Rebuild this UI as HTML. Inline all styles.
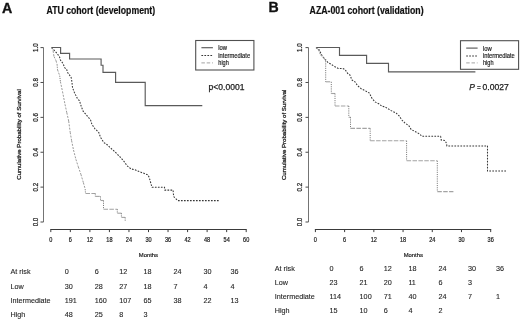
<!DOCTYPE html>
<html><head><meta charset="utf-8"><style>
html,body{margin:0;padding:0;background:#fff;}
body{width:520px;height:321px;overflow:hidden;}
svg{display:block;will-change:transform;font-family:"Liberation Sans", sans-serif;}
</style></head><body>
<svg width="520" height="321" viewBox="0 0 520 321">
<text x="2.10" y="12.50" font-size="15.3" textLength="10.3" lengthAdjust="spacingAndGlyphs" font-weight="bold" fill="#111" stroke="#111" stroke-width="0.35">A</text>
<text x="46.50" y="13.50" font-size="10.1" textLength="108.6" lengthAdjust="spacingAndGlyphs" font-weight="bold" fill="#111" stroke="#111" stroke-width="0.2">ATU cohort (development)</text>
<text x="268.60" y="11.80" font-size="15.4" textLength="10.2" lengthAdjust="spacingAndGlyphs" font-weight="bold" fill="#111" stroke="#111" stroke-width="0.35">B</text>
<text x="309.60" y="13.50" font-size="10.1" textLength="114" lengthAdjust="spacingAndGlyphs" font-weight="bold" fill="#111" stroke="#111" stroke-width="0.2">AZA-001 cohort (validation)</text>
<line x1="43.50" y1="47.60" x2="43.50" y2="222.00" stroke="#747474" stroke-width="1"/>
<line x1="40.50" y1="47.60" x2="43.50" y2="47.60" stroke="#4a4a4a" stroke-width="1"/>
<text x="37.80" y="47.60" font-size="7.0" textLength="8.7" lengthAdjust="spacingAndGlyphs" text-anchor="middle" fill="#1e1e1e" stroke="#1e1e1e" stroke-width="0.22" transform="rotate(-90 37.80 47.60)">1.0</text>
<line x1="40.50" y1="82.48" x2="43.50" y2="82.48" stroke="#4a4a4a" stroke-width="1"/>
<text x="37.80" y="82.48" font-size="7.0" textLength="8.7" lengthAdjust="spacingAndGlyphs" text-anchor="middle" fill="#1e1e1e" stroke="#1e1e1e" stroke-width="0.22" transform="rotate(-90 37.80 82.48)">0.8</text>
<line x1="40.50" y1="117.36" x2="43.50" y2="117.36" stroke="#4a4a4a" stroke-width="1"/>
<text x="37.80" y="117.36" font-size="7.0" textLength="8.7" lengthAdjust="spacingAndGlyphs" text-anchor="middle" fill="#1e1e1e" stroke="#1e1e1e" stroke-width="0.22" transform="rotate(-90 37.80 117.36)">0.6</text>
<line x1="40.50" y1="152.24" x2="43.50" y2="152.24" stroke="#4a4a4a" stroke-width="1"/>
<text x="37.80" y="152.24" font-size="7.0" textLength="8.7" lengthAdjust="spacingAndGlyphs" text-anchor="middle" fill="#1e1e1e" stroke="#1e1e1e" stroke-width="0.22" transform="rotate(-90 37.80 152.24)">0.4</text>
<line x1="40.50" y1="187.12" x2="43.50" y2="187.12" stroke="#4a4a4a" stroke-width="1"/>
<text x="37.80" y="187.12" font-size="7.0" textLength="8.7" lengthAdjust="spacingAndGlyphs" text-anchor="middle" fill="#1e1e1e" stroke="#1e1e1e" stroke-width="0.22" transform="rotate(-90 37.80 187.12)">0.2</text>
<line x1="40.50" y1="222.00" x2="43.50" y2="222.00" stroke="#4a4a4a" stroke-width="1"/>
<text x="37.80" y="222.00" font-size="7.0" textLength="8.7" lengthAdjust="spacingAndGlyphs" text-anchor="middle" fill="#1e1e1e" stroke="#1e1e1e" stroke-width="0.22" transform="rotate(-90 37.80 222.00)">0.0</text>
<line x1="50.30" y1="229.50" x2="246.70" y2="229.50" stroke="#3a3a3a" stroke-width="1"/>
<line x1="50.80" y1="229.50" x2="50.80" y2="232.10" stroke="#3a3a3a" stroke-width="1"/>
<text x="50.80" y="241.60" font-size="6.6" textLength="3.1" lengthAdjust="spacingAndGlyphs" text-anchor="middle" fill="#1e1e1e" stroke="#1e1e1e" stroke-width="0.22">0</text>
<line x1="70.34" y1="229.50" x2="70.34" y2="232.10" stroke="#3a3a3a" stroke-width="1"/>
<text x="70.34" y="241.60" font-size="6.6" textLength="3.1" lengthAdjust="spacingAndGlyphs" text-anchor="middle" fill="#1e1e1e" stroke="#1e1e1e" stroke-width="0.22">6</text>
<line x1="89.88" y1="229.50" x2="89.88" y2="232.10" stroke="#3a3a3a" stroke-width="1"/>
<text x="89.88" y="241.60" font-size="6.6" textLength="6.2" lengthAdjust="spacingAndGlyphs" text-anchor="middle" fill="#1e1e1e" stroke="#1e1e1e" stroke-width="0.22">12</text>
<line x1="109.42" y1="229.50" x2="109.42" y2="232.10" stroke="#3a3a3a" stroke-width="1"/>
<text x="109.42" y="241.60" font-size="6.6" textLength="6.2" lengthAdjust="spacingAndGlyphs" text-anchor="middle" fill="#1e1e1e" stroke="#1e1e1e" stroke-width="0.22">18</text>
<line x1="128.96" y1="229.50" x2="128.96" y2="232.10" stroke="#3a3a3a" stroke-width="1"/>
<text x="128.96" y="241.60" font-size="6.6" textLength="6.2" lengthAdjust="spacingAndGlyphs" text-anchor="middle" fill="#1e1e1e" stroke="#1e1e1e" stroke-width="0.22">24</text>
<line x1="148.50" y1="229.50" x2="148.50" y2="232.10" stroke="#3a3a3a" stroke-width="1"/>
<text x="148.50" y="241.60" font-size="6.6" textLength="6.2" lengthAdjust="spacingAndGlyphs" text-anchor="middle" fill="#1e1e1e" stroke="#1e1e1e" stroke-width="0.22">30</text>
<line x1="168.04" y1="229.50" x2="168.04" y2="232.10" stroke="#3a3a3a" stroke-width="1"/>
<text x="168.04" y="241.60" font-size="6.6" textLength="6.2" lengthAdjust="spacingAndGlyphs" text-anchor="middle" fill="#1e1e1e" stroke="#1e1e1e" stroke-width="0.22">36</text>
<line x1="187.58" y1="229.50" x2="187.58" y2="232.10" stroke="#3a3a3a" stroke-width="1"/>
<text x="187.58" y="241.60" font-size="6.6" textLength="6.2" lengthAdjust="spacingAndGlyphs" text-anchor="middle" fill="#1e1e1e" stroke="#1e1e1e" stroke-width="0.22">42</text>
<line x1="207.12" y1="229.50" x2="207.12" y2="232.10" stroke="#3a3a3a" stroke-width="1"/>
<text x="207.12" y="241.60" font-size="6.6" textLength="6.2" lengthAdjust="spacingAndGlyphs" text-anchor="middle" fill="#1e1e1e" stroke="#1e1e1e" stroke-width="0.22">48</text>
<line x1="226.66" y1="229.50" x2="226.66" y2="232.10" stroke="#3a3a3a" stroke-width="1"/>
<text x="226.66" y="241.60" font-size="6.6" textLength="6.2" lengthAdjust="spacingAndGlyphs" text-anchor="middle" fill="#1e1e1e" stroke="#1e1e1e" stroke-width="0.22">54</text>
<line x1="246.20" y1="229.50" x2="246.20" y2="232.10" stroke="#3a3a3a" stroke-width="1"/>
<text x="246.20" y="241.60" font-size="6.6" textLength="6.2" lengthAdjust="spacingAndGlyphs" text-anchor="middle" fill="#1e1e1e" stroke="#1e1e1e" stroke-width="0.22">60</text>
<text x="21.20" y="134.50" font-size="5.8" textLength="90.5" lengthAdjust="spacingAndGlyphs" text-anchor="middle" fill="#1e1e1e" stroke="#1e1e1e" stroke-width="0.28" transform="rotate(-90 21.20 134.50)">Cumulative Probability of Survival</text>
<line x1="308.50" y1="47.60" x2="308.50" y2="222.00" stroke="#747474" stroke-width="1"/>
<line x1="305.50" y1="47.60" x2="308.50" y2="47.60" stroke="#4a4a4a" stroke-width="1"/>
<text x="302.40" y="47.60" font-size="7.0" textLength="8.7" lengthAdjust="spacingAndGlyphs" text-anchor="middle" fill="#1e1e1e" stroke="#1e1e1e" stroke-width="0.22" transform="rotate(-90 302.40 47.60)">1.0</text>
<line x1="305.50" y1="82.48" x2="308.50" y2="82.48" stroke="#4a4a4a" stroke-width="1"/>
<text x="302.40" y="82.48" font-size="7.0" textLength="8.7" lengthAdjust="spacingAndGlyphs" text-anchor="middle" fill="#1e1e1e" stroke="#1e1e1e" stroke-width="0.22" transform="rotate(-90 302.40 82.48)">0.8</text>
<line x1="305.50" y1="117.36" x2="308.50" y2="117.36" stroke="#4a4a4a" stroke-width="1"/>
<text x="302.40" y="117.36" font-size="7.0" textLength="8.7" lengthAdjust="spacingAndGlyphs" text-anchor="middle" fill="#1e1e1e" stroke="#1e1e1e" stroke-width="0.22" transform="rotate(-90 302.40 117.36)">0.6</text>
<line x1="305.50" y1="152.24" x2="308.50" y2="152.24" stroke="#4a4a4a" stroke-width="1"/>
<text x="302.40" y="152.24" font-size="7.0" textLength="8.7" lengthAdjust="spacingAndGlyphs" text-anchor="middle" fill="#1e1e1e" stroke="#1e1e1e" stroke-width="0.22" transform="rotate(-90 302.40 152.24)">0.4</text>
<line x1="305.50" y1="187.12" x2="308.50" y2="187.12" stroke="#4a4a4a" stroke-width="1"/>
<text x="302.40" y="187.12" font-size="7.0" textLength="8.7" lengthAdjust="spacingAndGlyphs" text-anchor="middle" fill="#1e1e1e" stroke="#1e1e1e" stroke-width="0.22" transform="rotate(-90 302.40 187.12)">0.2</text>
<line x1="305.50" y1="222.00" x2="308.50" y2="222.00" stroke="#4a4a4a" stroke-width="1"/>
<text x="302.40" y="222.00" font-size="7.0" textLength="8.7" lengthAdjust="spacingAndGlyphs" text-anchor="middle" fill="#1e1e1e" stroke="#1e1e1e" stroke-width="0.22" transform="rotate(-90 302.40 222.00)">0.0</text>
<line x1="314.90" y1="229.50" x2="491.20" y2="229.50" stroke="#3a3a3a" stroke-width="1"/>
<line x1="315.40" y1="229.50" x2="315.40" y2="232.10" stroke="#3a3a3a" stroke-width="1"/>
<text x="315.40" y="241.60" font-size="6.6" textLength="3.1" lengthAdjust="spacingAndGlyphs" text-anchor="middle" fill="#1e1e1e" stroke="#1e1e1e" stroke-width="0.22">0</text>
<line x1="344.62" y1="229.50" x2="344.62" y2="232.10" stroke="#3a3a3a" stroke-width="1"/>
<text x="344.62" y="241.60" font-size="6.6" textLength="3.1" lengthAdjust="spacingAndGlyphs" text-anchor="middle" fill="#1e1e1e" stroke="#1e1e1e" stroke-width="0.22">6</text>
<line x1="373.83" y1="229.50" x2="373.83" y2="232.10" stroke="#3a3a3a" stroke-width="1"/>
<text x="373.83" y="241.60" font-size="6.6" textLength="6.2" lengthAdjust="spacingAndGlyphs" text-anchor="middle" fill="#1e1e1e" stroke="#1e1e1e" stroke-width="0.22">12</text>
<line x1="403.05" y1="229.50" x2="403.05" y2="232.10" stroke="#3a3a3a" stroke-width="1"/>
<text x="403.05" y="241.60" font-size="6.6" textLength="6.2" lengthAdjust="spacingAndGlyphs" text-anchor="middle" fill="#1e1e1e" stroke="#1e1e1e" stroke-width="0.22">18</text>
<line x1="432.27" y1="229.50" x2="432.27" y2="232.10" stroke="#3a3a3a" stroke-width="1"/>
<text x="432.27" y="241.60" font-size="6.6" textLength="6.2" lengthAdjust="spacingAndGlyphs" text-anchor="middle" fill="#1e1e1e" stroke="#1e1e1e" stroke-width="0.22">24</text>
<line x1="461.48" y1="229.50" x2="461.48" y2="232.10" stroke="#3a3a3a" stroke-width="1"/>
<text x="461.48" y="241.60" font-size="6.6" textLength="6.2" lengthAdjust="spacingAndGlyphs" text-anchor="middle" fill="#1e1e1e" stroke="#1e1e1e" stroke-width="0.22">30</text>
<line x1="490.70" y1="229.50" x2="490.70" y2="232.10" stroke="#3a3a3a" stroke-width="1"/>
<text x="490.70" y="241.60" font-size="6.6" textLength="6.2" lengthAdjust="spacingAndGlyphs" text-anchor="middle" fill="#1e1e1e" stroke="#1e1e1e" stroke-width="0.22">36</text>
<text x="286.20" y="134.80" font-size="5.8" textLength="90.5" lengthAdjust="spacingAndGlyphs" text-anchor="middle" fill="#1e1e1e" stroke="#1e1e1e" stroke-width="0.28" transform="rotate(-90 286.20 134.80)">Cumulative Probability of Survival</text>
<text x="138.80" y="257.20" font-size="6.2" textLength="19.2" lengthAdjust="spacingAndGlyphs" fill="#1e1e1e" stroke="#1e1e1e" stroke-width="0.22">Months</text>
<text x="403.70" y="257.20" font-size="6.2" textLength="19.2" lengthAdjust="spacingAndGlyphs" fill="#1e1e1e" stroke="#1e1e1e" stroke-width="0.22">Months</text>
<polyline points="51.5,47.5 60.6,47.5 60.6,53.3 69.6,53.3 69.6,59.0 101.1,59.0 101.1,65.2 103.0,65.2 103.0,72.4 115.6,72.4 115.6,82.3 145.2,82.3 145.2,105.6 202.3,105.6" fill="none" stroke="#5a5a5a" stroke-width="1.15" stroke-linecap="butt" stroke-linejoin="miter"/>
<polyline points="51.5,47.5 57.1,53.4 59.6,57.1 60.4,60.0 63.1,63.7 64.6,67.5 66.8,69.7 67.2,71.9 69.4,74.9 71.3,77.9 72.0,82.4 72.5,87.5 74.4,92.5 77.5,98.8 79.4,100.6 81.2,106.2 83.1,111.2 86.9,115.6 90.6,120.0 91.9,124.4 95.0,128.8 98.8,132.5 100.6,137.5 103.8,142.5 107.5,145.0 110.0,147.5 115.0,151.9 120.0,156.9 123.8,161.2 127.5,166.2 131.0,168.9 135.0,169.8 140.0,171.9 144.4,173.5 148.1,175.0 149.4,178.1 150.6,182.5 152.0,187.3 164.5,187.3 164.9,190.1 173.1,190.1 173.4,194.0 173.9,196.8 177.8,200.6 218.8,200.6" fill="none" stroke="#383838" stroke-width="1.05" stroke-dasharray="1.7,1.3" stroke-linecap="butt" stroke-linejoin="miter"/>
<line x1="51.50" y1="47.50" x2="53.10" y2="50.90" stroke="#9a9a9a" stroke-width="1.0" stroke-dasharray="2,1.3"/>
<line x1="53.10" y1="50.90" x2="54.00" y2="56.50" stroke="#9a9a9a" stroke-width="1.0" stroke-dasharray="2,1.3"/>
<line x1="54.00" y1="56.50" x2="56.00" y2="60.70" stroke="#9a9a9a" stroke-width="1.0" stroke-dasharray="2,1.3"/>
<line x1="56.00" y1="60.70" x2="57.10" y2="64.50" stroke="#9a9a9a" stroke-width="1.0" stroke-dasharray="2,1.3"/>
<line x1="57.10" y1="64.50" x2="57.50" y2="69.70" stroke="#7a7a7a" stroke-width="1.0" stroke-dasharray="1.1,1.1"/>
<line x1="57.50" y1="69.70" x2="58.60" y2="72.70" stroke="#9a9a9a" stroke-width="1.0" stroke-dasharray="2,1.3"/>
<line x1="58.60" y1="72.70" x2="59.70" y2="75.70" stroke="#9a9a9a" stroke-width="1.0" stroke-dasharray="2,1.3"/>
<line x1="59.70" y1="75.70" x2="60.40" y2="81.60" stroke="#7a7a7a" stroke-width="1.0" stroke-dasharray="1.1,1.1"/>
<line x1="60.40" y1="81.60" x2="62.50" y2="91.50" stroke="#9a9a9a" stroke-width="1.0" stroke-dasharray="2,1.3"/>
<line x1="62.50" y1="91.50" x2="65.00" y2="104.30" stroke="#9a9a9a" stroke-width="1.0" stroke-dasharray="2,1.3"/>
<line x1="65.00" y1="104.30" x2="66.80" y2="112.70" stroke="#9a9a9a" stroke-width="1.0" stroke-dasharray="2,1.3"/>
<line x1="66.80" y1="112.70" x2="68.70" y2="121.10" stroke="#9a9a9a" stroke-width="1.0" stroke-dasharray="2,1.3"/>
<line x1="68.70" y1="121.10" x2="70.20" y2="132.30" stroke="#9a9a9a" stroke-width="1.0" stroke-dasharray="2,1.3"/>
<line x1="70.20" y1="132.30" x2="71.60" y2="140.60" stroke="#9a9a9a" stroke-width="1.0" stroke-dasharray="2,1.3"/>
<line x1="71.60" y1="140.60" x2="73.50" y2="150.00" stroke="#9a9a9a" stroke-width="1.0" stroke-dasharray="2,1.3"/>
<line x1="73.50" y1="150.00" x2="75.90" y2="159.30" stroke="#9a9a9a" stroke-width="1.0" stroke-dasharray="2,1.3"/>
<line x1="75.90" y1="159.30" x2="78.30" y2="166.80" stroke="#9a9a9a" stroke-width="1.0" stroke-dasharray="2,1.3"/>
<line x1="78.30" y1="166.80" x2="80.90" y2="174.30" stroke="#9a9a9a" stroke-width="1.0" stroke-dasharray="2,1.3"/>
<line x1="80.90" y1="174.30" x2="83.40" y2="182.70" stroke="#9a9a9a" stroke-width="1.0" stroke-dasharray="2,1.3"/>
<line x1="83.40" y1="182.70" x2="85.20" y2="189.20" stroke="#9a9a9a" stroke-width="1.0" stroke-dasharray="2,1.3"/>
<line x1="85.20" y1="189.20" x2="85.50" y2="193.50" stroke="#7a7a7a" stroke-width="1.0" stroke-dasharray="1.1,1.1"/>
<line x1="85.50" y1="193.50" x2="95.30" y2="193.50" stroke="#a3a3a3" stroke-width="1.1" stroke-dasharray="4.5,1.4"/>
<line x1="95.30" y1="193.50" x2="95.30" y2="196.40" stroke="#7a7a7a" stroke-width="1.0" stroke-dasharray="1.1,1.1"/>
<line x1="95.30" y1="196.40" x2="100.50" y2="196.40" stroke="#a3a3a3" stroke-width="1.1" stroke-dasharray="4.5,1.4"/>
<line x1="100.50" y1="196.40" x2="100.50" y2="200.50" stroke="#7a7a7a" stroke-width="1.0" stroke-dasharray="1.1,1.1"/>
<line x1="100.50" y1="200.50" x2="103.50" y2="200.50" stroke="#a3a3a3" stroke-width="1.1" stroke-dasharray="4.5,1.4"/>
<line x1="103.50" y1="200.50" x2="103.50" y2="209.20" stroke="#7a7a7a" stroke-width="1.0" stroke-dasharray="1.1,1.1"/>
<line x1="103.50" y1="209.20" x2="117.30" y2="209.20" stroke="#a3a3a3" stroke-width="1.1" stroke-dasharray="4.5,1.4"/>
<line x1="117.30" y1="209.20" x2="117.30" y2="213.20" stroke="#7a7a7a" stroke-width="1.0" stroke-dasharray="1.1,1.1"/>
<line x1="117.30" y1="213.20" x2="121.40" y2="213.20" stroke="#a3a3a3" stroke-width="1.1" stroke-dasharray="4.5,1.4"/>
<line x1="121.40" y1="213.20" x2="121.40" y2="217.40" stroke="#7a7a7a" stroke-width="1.0" stroke-dasharray="1.1,1.1"/>
<line x1="121.40" y1="217.40" x2="125.20" y2="217.40" stroke="#a3a3a3" stroke-width="1.1" stroke-dasharray="4.5,1.4"/>
<line x1="125.20" y1="217.40" x2="125.20" y2="221.30" stroke="#7a7a7a" stroke-width="1.0" stroke-dasharray="1.1,1.1"/>
<polyline points="316.0,47.5 339.5,47.5 339.5,55.4 366.6,55.4 366.6,63.3 388.5,63.3 388.5,71.9 475.4,71.9" fill="none" stroke="#5a5a5a" stroke-width="1.15" stroke-linecap="butt" stroke-linejoin="miter"/>
<polyline points="316.0,47.5 319.5,50.2 321.4,54.6 323.2,57.1 325.1,59.6 328.2,62.7 330.7,64.0 334.5,66.5 338.2,68.4 342.6,68.4 345.1,69.6 347.6,73.3 350.0,75.0 351.9,80.0 355.0,81.9 357.5,85.6 361.2,88.8 365.0,90.6 369.4,93.1 371.9,98.1 375.0,101.9 378.8,103.8 381.9,106.2 385.0,106.9 388.1,108.8 391.2,110.6 396.2,113.1 399.4,116.2 401.9,120.0 405.0,123.1 408.8,125.6 411.2,129.5 415.0,131.5 419.4,133.8 421.9,136.3 440.6,136.3 441.2,140.0 445.0,140.6 446.4,143.1 446.9,145.9 487.5,145.9 487.5,171.0 506.7,171.0" fill="none" stroke="#383838" stroke-width="1.05" stroke-dasharray="1.7,1.3" stroke-linecap="butt" stroke-linejoin="miter"/>
<line x1="316.00" y1="47.50" x2="318.20" y2="49.60" stroke="#9a9a9a" stroke-width="1.0" stroke-dasharray="2,1.3"/>
<line x1="318.20" y1="49.60" x2="320.70" y2="55.20" stroke="#9a9a9a" stroke-width="1.0" stroke-dasharray="2,1.3"/>
<line x1="320.70" y1="55.20" x2="323.20" y2="57.70" stroke="#9a9a9a" stroke-width="1.0" stroke-dasharray="2,1.3"/>
<line x1="323.20" y1="57.70" x2="325.70" y2="59.00" stroke="#9a9a9a" stroke-width="1.0" stroke-dasharray="2,1.3"/>
<line x1="325.70" y1="59.00" x2="325.70" y2="81.80" stroke="#7a7a7a" stroke-width="1.0" stroke-dasharray="1.1,1.1"/>
<line x1="325.70" y1="81.80" x2="331.30" y2="81.80" stroke="#a3a3a3" stroke-width="1.1" stroke-dasharray="4.5,1.4"/>
<line x1="331.30" y1="81.80" x2="331.30" y2="93.50" stroke="#7a7a7a" stroke-width="1.0" stroke-dasharray="1.1,1.1"/>
<line x1="331.30" y1="93.50" x2="335.00" y2="93.50" stroke="#a3a3a3" stroke-width="1.1" stroke-dasharray="4.5,1.4"/>
<line x1="335.00" y1="93.50" x2="335.00" y2="106.00" stroke="#7a7a7a" stroke-width="1.0" stroke-dasharray="1.1,1.1"/>
<line x1="335.00" y1="106.00" x2="348.80" y2="106.00" stroke="#a3a3a3" stroke-width="1.1" stroke-dasharray="4.5,1.4"/>
<line x1="348.80" y1="106.00" x2="348.80" y2="117.20" stroke="#7a7a7a" stroke-width="1.0" stroke-dasharray="1.1,1.1"/>
<line x1="348.80" y1="117.20" x2="350.50" y2="117.20" stroke="#a3a3a3" stroke-width="1.1" stroke-dasharray="4.5,1.4"/>
<line x1="350.50" y1="117.20" x2="350.50" y2="128.40" stroke="#7a7a7a" stroke-width="1.0" stroke-dasharray="1.1,1.1"/>
<line x1="350.50" y1="128.40" x2="370.20" y2="128.40" stroke="#a3a3a3" stroke-width="1.1" stroke-dasharray="4.5,1.4"/>
<line x1="370.20" y1="128.40" x2="370.20" y2="140.80" stroke="#7a7a7a" stroke-width="1.0" stroke-dasharray="1.1,1.1"/>
<line x1="370.20" y1="140.80" x2="406.60" y2="140.80" stroke="#a3a3a3" stroke-width="1.1" stroke-dasharray="4.5,1.4"/>
<line x1="406.60" y1="140.80" x2="406.60" y2="160.80" stroke="#7a7a7a" stroke-width="1.0" stroke-dasharray="1.1,1.1"/>
<line x1="406.60" y1="160.80" x2="437.30" y2="160.80" stroke="#a3a3a3" stroke-width="1.1" stroke-dasharray="4.5,1.4"/>
<line x1="437.30" y1="160.80" x2="437.30" y2="191.60" stroke="#7a7a7a" stroke-width="1.0" stroke-dasharray="1.1,1.1"/>
<line x1="437.30" y1="191.60" x2="453.40" y2="191.60" stroke="#a3a3a3" stroke-width="1.1" stroke-dasharray="4.5,1.4"/>
<rect x="195.7" y="40.5" width="58.2" height="29.5" fill="#fff" stroke="#505050" stroke-width="1.1"/>
<line x1="201.40" y1="47.70" x2="212.90" y2="47.70" stroke="#5a5a5a" stroke-width="1.15"/>
<line x1="201.40" y1="55.50" x2="212.90" y2="55.50" stroke="#383838" stroke-width="1.05" stroke-dasharray="1.7,1.3"/>
<line x1="201.40" y1="62.90" x2="212.90" y2="62.90" stroke="#a3a3a3" stroke-width="1.0" stroke-dasharray="3.5,1.8"/>
<text x="218.30" y="50.20" font-size="6.3" textLength="8.8" lengthAdjust="spacingAndGlyphs" fill="#1e1e1e" stroke="#1e1e1e" stroke-width="0.18">low</text>
<text x="218.30" y="57.70" font-size="6.3" textLength="31.8" lengthAdjust="spacingAndGlyphs" fill="#1e1e1e" stroke="#1e1e1e" stroke-width="0.18">intermediate</text>
<text x="218.30" y="65.10" font-size="6.3" textLength="10.5" lengthAdjust="spacingAndGlyphs" fill="#1e1e1e" stroke="#1e1e1e" stroke-width="0.18">high</text>
<rect x="460.5" y="40.7" width="58.1" height="28.6" fill="#fff" stroke="#505050" stroke-width="1.1"/>
<line x1="466.20" y1="48.10" x2="477.60" y2="48.10" stroke="#5a5a5a" stroke-width="1.15"/>
<line x1="466.20" y1="55.90" x2="477.60" y2="55.90" stroke="#383838" stroke-width="1.05" stroke-dasharray="1.7,1.3"/>
<line x1="466.20" y1="62.90" x2="477.60" y2="62.90" stroke="#a3a3a3" stroke-width="1.0" stroke-dasharray="3.5,1.8"/>
<text x="483.00" y="50.60" font-size="6.3" textLength="8.8" lengthAdjust="spacingAndGlyphs" fill="#1e1e1e" stroke="#1e1e1e" stroke-width="0.18">low</text>
<text x="483.00" y="58.10" font-size="6.3" textLength="31.8" lengthAdjust="spacingAndGlyphs" fill="#1e1e1e" stroke="#1e1e1e" stroke-width="0.18">intermediate</text>
<text x="483.00" y="65.10" font-size="6.3" textLength="10.5" lengthAdjust="spacingAndGlyphs" fill="#1e1e1e" stroke="#1e1e1e" stroke-width="0.18">high</text>
<text x="208.60" y="90.00" font-size="8.4" textLength="35.8" lengthAdjust="spacingAndGlyphs" fill="#1e1e1e" stroke="#1e1e1e" stroke-width="0.25">p&lt;0.0001</text>
<text x="469.30" y="90.00" font-size="8.4" font-style="italic" fill="#1e1e1e" stroke="#1e1e1e" stroke-width="0.25">P</text>
<text x="477.10" y="89.90" font-size="8.2" textLength="3.8" lengthAdjust="spacingAndGlyphs" fill="#1e1e1e" stroke="#1e1e1e" stroke-width="0.2">=</text>
<text x="482.60" y="90.00" font-size="8.4" textLength="26.2" lengthAdjust="spacingAndGlyphs" fill="#1e1e1e" stroke="#1e1e1e" stroke-width="0.25">0.0027</text>
<g transform="matrix(0.915,0,0,1,0,0)">
<text x="11.48" y="274.50" font-size="7.9" fill="#262626" stroke="#262626" stroke-width="0.12">At risk</text>
<text x="70.71" y="274.50" font-size="7.9" fill="#262626" stroke="#262626" stroke-width="0.12">0</text>
<text x="103.50" y="274.50" font-size="7.9" fill="#262626" stroke="#262626" stroke-width="0.12">6</text>
<text x="130.27" y="274.50" font-size="7.9" fill="#262626" stroke="#262626" stroke-width="0.12">12</text>
<text x="156.72" y="274.50" font-size="7.9" fill="#262626" stroke="#262626" stroke-width="0.12">18</text>
<text x="189.51" y="274.50" font-size="7.9" fill="#262626" stroke="#262626" stroke-width="0.12">24</text>
<text x="222.30" y="274.50" font-size="7.9" fill="#262626" stroke="#262626" stroke-width="0.12">30</text>
<text x="251.80" y="274.50" font-size="7.9" fill="#262626" stroke="#262626" stroke-width="0.12">36</text>
<text x="11.48" y="288.60" font-size="7.9" fill="#262626" stroke="#262626" stroke-width="0.12">Low</text>
<text x="70.71" y="288.60" font-size="7.9" fill="#262626" stroke="#262626" stroke-width="0.12">30</text>
<text x="103.50" y="288.60" font-size="7.9" fill="#262626" stroke="#262626" stroke-width="0.12">28</text>
<text x="130.27" y="288.60" font-size="7.9" fill="#262626" stroke="#262626" stroke-width="0.12">27</text>
<text x="156.72" y="288.60" font-size="7.9" fill="#262626" stroke="#262626" stroke-width="0.12">18</text>
<text x="189.51" y="288.60" font-size="7.9" fill="#262626" stroke="#262626" stroke-width="0.12">7</text>
<text x="222.30" y="288.60" font-size="7.9" fill="#262626" stroke="#262626" stroke-width="0.12">4</text>
<text x="251.80" y="288.60" font-size="7.9" fill="#262626" stroke="#262626" stroke-width="0.12">4</text>
<text x="11.48" y="302.70" font-size="7.9" fill="#262626" stroke="#262626" stroke-width="0.12">Intermediate</text>
<text x="70.71" y="302.70" font-size="7.9" fill="#262626" stroke="#262626" stroke-width="0.12">191</text>
<text x="103.50" y="302.70" font-size="7.9" fill="#262626" stroke="#262626" stroke-width="0.12">160</text>
<text x="130.27" y="302.70" font-size="7.9" fill="#262626" stroke="#262626" stroke-width="0.12">107</text>
<text x="156.72" y="302.70" font-size="7.9" fill="#262626" stroke="#262626" stroke-width="0.12">65</text>
<text x="189.51" y="302.70" font-size="7.9" fill="#262626" stroke="#262626" stroke-width="0.12">38</text>
<text x="222.30" y="302.70" font-size="7.9" fill="#262626" stroke="#262626" stroke-width="0.12">22</text>
<text x="251.80" y="302.70" font-size="7.9" fill="#262626" stroke="#262626" stroke-width="0.12">13</text>
<text x="11.48" y="316.80" font-size="7.9" fill="#262626" stroke="#262626" stroke-width="0.12">High</text>
<text x="70.71" y="316.80" font-size="7.9" fill="#262626" stroke="#262626" stroke-width="0.12">48</text>
<text x="103.50" y="316.80" font-size="7.9" fill="#262626" stroke="#262626" stroke-width="0.12">25</text>
<text x="130.27" y="316.80" font-size="7.9" fill="#262626" stroke="#262626" stroke-width="0.12">8</text>
<text x="156.72" y="316.80" font-size="7.9" fill="#262626" stroke="#262626" stroke-width="0.12">3</text>
</g>
<g transform="matrix(0.915,0,0,1,0,0)">
<text x="300.22" y="270.80" font-size="7.9" fill="#262626" stroke="#262626" stroke-width="0.12">At risk</text>
<text x="360.22" y="270.80" font-size="7.9" fill="#262626" stroke="#262626" stroke-width="0.12">0</text>
<text x="393.01" y="270.80" font-size="7.9" fill="#262626" stroke="#262626" stroke-width="0.12">6</text>
<text x="419.45" y="270.80" font-size="7.9" fill="#262626" stroke="#262626" stroke-width="0.12">12</text>
<text x="446.34" y="270.80" font-size="7.9" fill="#262626" stroke="#262626" stroke-width="0.12">18</text>
<text x="479.13" y="270.80" font-size="7.9" fill="#262626" stroke="#262626" stroke-width="0.12">24</text>
<text x="511.58" y="270.80" font-size="7.9" fill="#262626" stroke="#262626" stroke-width="0.12">30</text>
<text x="542.08" y="270.80" font-size="7.9" fill="#262626" stroke="#262626" stroke-width="0.12">36</text>
<text x="300.22" y="284.90" font-size="7.9" fill="#262626" stroke="#262626" stroke-width="0.12">Low</text>
<text x="360.22" y="284.90" font-size="7.9" fill="#262626" stroke="#262626" stroke-width="0.12">23</text>
<text x="393.01" y="284.90" font-size="7.9" fill="#262626" stroke="#262626" stroke-width="0.12">21</text>
<text x="419.45" y="284.90" font-size="7.9" fill="#262626" stroke="#262626" stroke-width="0.12">20</text>
<text x="446.34" y="284.90" font-size="7.9" fill="#262626" stroke="#262626" stroke-width="0.12">11</text>
<text x="479.13" y="284.90" font-size="7.9" fill="#262626" stroke="#262626" stroke-width="0.12">6</text>
<text x="511.58" y="284.90" font-size="7.9" fill="#262626" stroke="#262626" stroke-width="0.12">3</text>
<text x="300.22" y="299.00" font-size="7.9" fill="#262626" stroke="#262626" stroke-width="0.12">Intermediate</text>
<text x="360.22" y="299.00" font-size="7.9" fill="#262626" stroke="#262626" stroke-width="0.12">114</text>
<text x="393.01" y="299.00" font-size="7.9" fill="#262626" stroke="#262626" stroke-width="0.12">100</text>
<text x="419.45" y="299.00" font-size="7.9" fill="#262626" stroke="#262626" stroke-width="0.12">71</text>
<text x="446.34" y="299.00" font-size="7.9" fill="#262626" stroke="#262626" stroke-width="0.12">40</text>
<text x="479.13" y="299.00" font-size="7.9" fill="#262626" stroke="#262626" stroke-width="0.12">24</text>
<text x="511.58" y="299.00" font-size="7.9" fill="#262626" stroke="#262626" stroke-width="0.12">7</text>
<text x="542.08" y="299.00" font-size="7.9" fill="#262626" stroke="#262626" stroke-width="0.12">1</text>
<text x="300.22" y="313.10" font-size="7.9" fill="#262626" stroke="#262626" stroke-width="0.12">High</text>
<text x="360.22" y="313.10" font-size="7.9" fill="#262626" stroke="#262626" stroke-width="0.12">15</text>
<text x="393.01" y="313.10" font-size="7.9" fill="#262626" stroke="#262626" stroke-width="0.12">10</text>
<text x="419.45" y="313.10" font-size="7.9" fill="#262626" stroke="#262626" stroke-width="0.12">6</text>
<text x="446.34" y="313.10" font-size="7.9" fill="#262626" stroke="#262626" stroke-width="0.12">4</text>
<text x="479.13" y="313.10" font-size="7.9" fill="#262626" stroke="#262626" stroke-width="0.12">2</text>
</g>
</svg>
</body></html>
